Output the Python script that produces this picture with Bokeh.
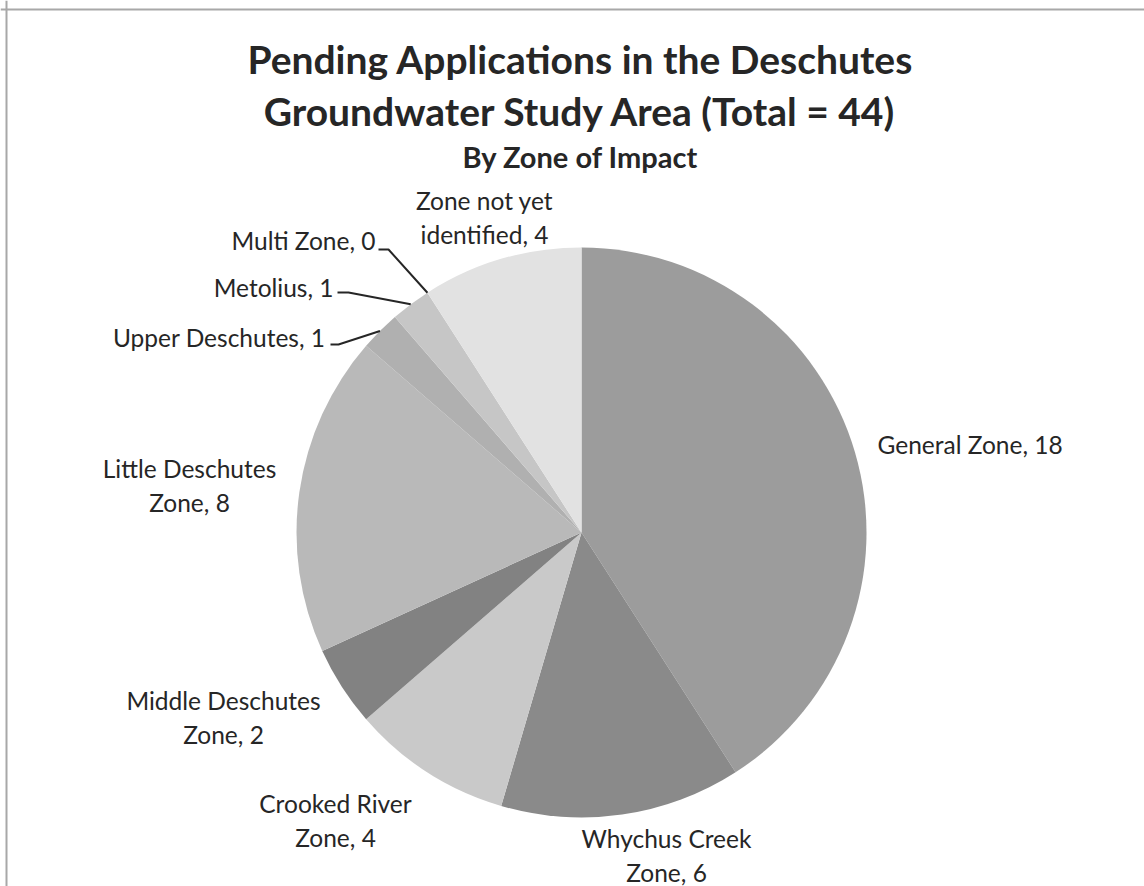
import math
from bokeh.plotting import figure
from bokeh.models import ColumnDataSource, Range1d, Span
from bokeh.core.properties import value
from bokeh.embed import file_html
from bokeh.resources import INLINE

# ---- data ----
zones = ["General Zone", "Whychus Creek Zone", "Crooked River Zone", "Middle Deschutes Zone",
         "Little Deschutes Zone", "Upper Deschutes", "Metolius", "Multi Zone", "Zone not yet identified"]
counts = [18, 6, 4, 2, 8, 1, 1, 0, 4]
colors = ["#9c9c9c", "#8a8a8a", "#c9c9c9", "#828282", "#b9b9b9", "#b0b0b0", "#c6c6c6", "#d0d0d0", "#e2e2e2"]
label_lines = [["General Zone, 18"], ["Whychus Creek", "Zone, 6"], ["Crooked River", "Zone, 4"],
               ["Middle Deschutes", "Zone, 2"], ["Little Deschutes", "Zone, 8"], ["Upper Deschutes, 1"],
               ["Metolius, 1"], ["Multi Zone, 0"], ["Zone not yet", "identified, 4"]]
title_lines = ["Pending Applications in the Deschutes", "Groundwater Study Area (Total = 44)"]
subtitle = "By Zone of Impact"

W, H = 1144, 886
FONT = "Lato"

def Y(py):  # picture pixel y -> data y
    return H - py

def X(px):
    return px

p = figure(width=W, height=H, output_backend="svg", toolbar_location=None,
           x_range=Range1d(0, W), y_range=Range1d(0, H), min_border=0)
p.axis.visible = False
p.grid.visible = False
p.outline_line_color = None
p.background_fill_color = "white"

# frame lines (top and left)
p.add_layout(Span(location=Y(9), dimension="width", line_color="#a8a8a8", line_width=2))
p.add_layout(Span(location=X(6), dimension="height", line_color="#a8a8a8", line_width=2))

# ---- pie ----
cx, cy, R = X(581), Y(532), 285
total = sum(counts)
cum = 0
starts, ends = [], []
theta_mid = []
for c in counts:
    t0 = cum / total * 2 * math.pi
    cum += c
    t1 = cum / total * 2 * math.pi
    starts.append(math.pi / 2 - t0)
    ends.append(math.pi / 2 - t1)
    theta_mid.append((t0 + t1) / 2)

idx = [i for i, c in enumerate(counts) if c > 0]
src = ColumnDataSource(dict(
    x=[cx] * len(idx), y=[cy] * len(idx),
    s=[starts[i] for i in idx], e=[ends[i] for i in idx],
    color=[colors[i] for i in idx]))
p.wedge(x="x", y="y", radius=R, radius_units="screen", start_angle="s", end_angle="e",
        direction="clock", fill_color="color", line_color=None, source=src)

# ---- titles ----
p.text(x=[X(580)] * 2, y=[Y(58), Y(110)], text=title_lines, text_font=value(FONT),
       text_font_style="bold", text_font_size="39px", text_color="#262626",
       text_align="center", text_baseline="middle")
p.text(x=[X(580)], y=[Y(156)], text=[subtitle], text_font=value(FONT),
       text_font_style="bold", text_font_size="29px", text_color="#262626",
       text_align="center", text_baseline="middle")

# ---- labels ----
# (anchor x, first line y, align) in picture px
label_pos = [(877, 444, "left"), (666, 838, "center"), (335, 803, "center"),
             (223, 700, "center"), (189, 468, "center"), (325, 337, "right"),
             (333, 287, "right"), (375, 240, "right"), (484, 200, "center")]
LH = 34
lx, ly, lt, la = [], [], [], []
for (ax, ay, al), lines in zip(label_pos, label_lines):
    for k, t in enumerate(lines):
        lx.append(X(ax)); ly.append(Y(ay + k * LH)); lt.append(t); la.append(al)
p.text(x="x", y="y", text="t", text_align="a", source=ColumnDataSource(dict(x=lx, y=ly, t=lt, a=la)),
       text_font=value(FONT), text_font_size="24.5px", text_color="#262626", text_baseline="middle")

# ---- leader lines for the small slices ----
leader_idx = [5, 6, 7]
leader_elbow = {5: ((330, 344), (338, 344)), 6: ((337, 292), (348, 292)), 7: ((378, 249), (388, 249))}
xs, ys = [], []
for i in leader_idx:
    th = theta_mid[i]
    ex = cx + R * math.sin(th)
    ey = cy + R * math.cos(th)
    (a, b), (c, d) = leader_elbow[i]
    xs.append([X(a), X(c), ex])
    ys.append([Y(b), Y(d), ey])
p.multi_line(xs=xs, ys=ys, line_color="#262626", line_width=2)

open("out.html", "w").write(file_html(p, INLINE))
